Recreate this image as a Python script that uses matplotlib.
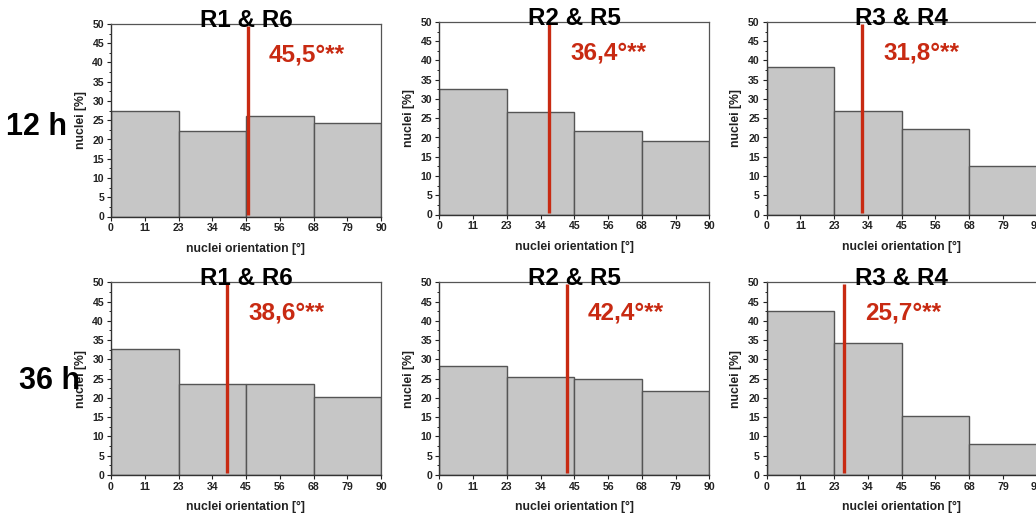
import matplotlib
matplotlib.use("Agg")
import matplotlib.pyplot as plt
from matplotlib.ticker import MultipleLocator

plt.rcParams['font.family'] = ['Liberation Sans', 'DejaVu Sans']
plt.rcParams['font.weight'] = 'bold'

bin_edges = [0, 22.5, 45, 67.5, 90]
tick_positions = [0, 11.25, 22.5, 33.75, 45, 56.25, 67.5, 78.75, 90]
tick_labels = ["0", "11", "23", "34", "45", "56", "68", "79", "90"]
row_labels = ["12 h", "36 h"]
titles = ["R1 & R6", "R2 & R5", "R3 & R4"]

# nuclei [%] per orientation bin
h12_r1r6 = [27.3, 22.1, 26.0, 24.4]
h12_r2r5 = [32.5, 26.5, 21.6, 19.0]
h12_r3r4 = [38.2, 26.8, 22.1, 12.7]
h36_r1r6 = [32.6, 23.6, 23.6, 20.2]
h36_r2r5 = [28.2, 25.3, 24.9, 21.7]
h36_r3r4 = [42.6, 34.2, 15.3, 8.0]

# mean orientation [°]
mean_12h = [45.5, 36.4, 31.8]
mean_36h = [38.6, 42.4, 25.7]
mean_labels_12h = ["45,5°**", "36,4°**", "31,8°**"]
mean_labels_36h = ["38,6°**", "42,4°**", "25,7°**"]

data = [[h12_r1r6, h12_r2r5, h12_r3r4], [h36_r1r6, h36_r2r5, h36_r3r4]]
means = [mean_12h, mean_36h]
mean_labels = [mean_labels_12h, mean_labels_36h]

W, H = 1036, 515
fig = plt.figure(figsize=(W / 100, H / 100), dpi=100)

lefts = [111, 439.3, 766.7]
tops = [[24, 22, 22], [282.3, 282.3, 282.3]]
ax_w, ax_h = 270, 192.5
red = "#c82a12"

for r in range(2):
    for c in range(3):
        l = lefts[c]
        t = tops[r][c]
        ax = fig.add_axes([l / W, 1 - (t + ax_h) / H, ax_w / W, ax_h / H])
        vals = data[r][c]
        widths = [bin_edges[i + 1] - bin_edges[i] for i in range(4)]
        ax.bar(bin_edges[:-1], vals, width=widths, align='edge',
               color="#c6c6c6", edgecolor="#555555", linewidth=1.0, zorder=2)
        ax.set_xlim(0, 90)
        ax.set_ylim(0, 50)
        ax.set_xticks(tick_positions)
        ax.set_xticklabels(tick_labels)
        ax.yaxis.set_major_locator(MultipleLocator(5))
        ax.yaxis.set_minor_locator(MultipleLocator(2.5))
        ax.tick_params(axis='both', which='major', direction='out', length=3,
                       width=0.8, labelsize=7.6, pad=2, colors="#222222")
        ax.tick_params(axis='y', which='minor', direction='out', length=1.8, width=0.6)
        for lab in ax.get_xticklabels() + ax.get_yticklabels():
            lab.set_fontweight('bold')
        for s in ['left', 'bottom']:
            ax.spines[s].set_color("#333333")
            ax.spines[s].set_linewidth(1.0)
        for s in ['top', 'right']:
            ax.spines[s].set_color("#555555")
            ax.spines[s].set_linewidth(0.9)
        ax.set_xlabel("nuclei orientation [°]", fontsize=8.8, fontweight='bold',
                      color="#222222", labelpad=7)
        ax.set_ylabel("nuclei [%]", fontsize=8.8, fontweight='bold',
                      color="#222222", labelpad=4)
        m = means[r][c]
        ax.plot([m, m], [0.5, 49.6], color=red, linewidth=2.4, zorder=4,
                solid_capstyle='butt')
        ax.text(m + 7.2, 40.3, mean_labels[r][c], color=red, fontsize=17.5,
                fontweight='bold', ha='left', va='baseline', zorder=5)
        ax.text(0.5, 0.985, titles[c], transform=ax.transAxes, fontsize=17.5,
                fontweight='bold', ha='center', va='baseline', color='black',
                zorder=6)

fig.text(37 / W, 1 - 135 / H, row_labels[0], fontsize=22, fontweight='bold',
         ha='center', va='baseline')
fig.text(50 / W, 1 - 389 / H, row_labels[1], fontsize=22, fontweight='bold',
         ha='center', va='baseline')

fig.savefig("out.png", dpi=100, facecolor='white')
